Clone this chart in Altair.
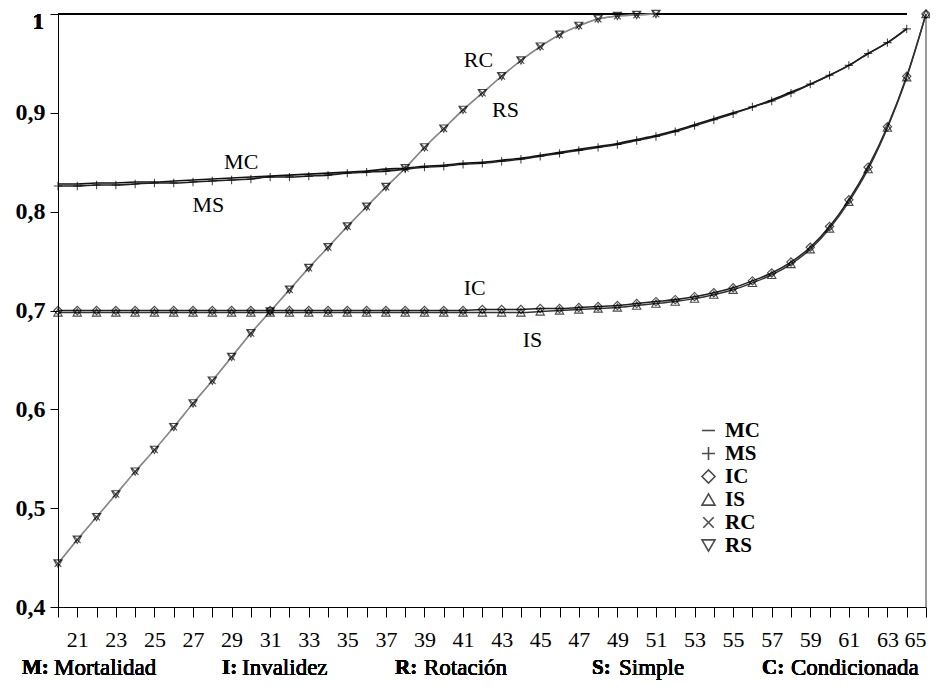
import altair as alt
import pandas as pd

# ---------------- data ----------------
ages_M = list(range(20, 65))
ages_I = list(range(20, 66))
ages_R = list(range(20, 52))

MC = [0.828, 0.828, 0.829, 0.829, 0.830, 0.830, 0.831, 0.832, 0.833, 0.834,
      0.835, 0.836, 0.837, 0.838, 0.839, 0.840, 0.841, 0.843, 0.844, 0.846,
      0.847, 0.849, 0.850, 0.852, 0.854, 0.857, 0.860, 0.863, 0.866, 0.869,
      0.873, 0.877, 0.882, 0.888, 0.894, 0.900, 0.906, 0.913, 0.921, 0.929,
      0.938, 0.948, 0.960, 0.971, 0.985]
MS = [0.826, 0.826, 0.827, 0.827, 0.828, 0.829, 0.829, 0.830, 0.831, 0.832,
      0.833, 0.835, 0.835, 0.836, 0.837, 0.839, 0.840, 0.841, 0.843, 0.845,
      0.846, 0.848, 0.849, 0.851, 0.853, 0.856, 0.859, 0.862, 0.865, 0.868,
      0.872, 0.876, 0.881, 0.887, 0.893, 0.899, 0.906, 0.912, 0.920, 0.929,
      0.938, 0.948, 0.960, 0.971, 0.985]
IC = [0.700, 0.700, 0.700, 0.700, 0.700, 0.700, 0.700, 0.700, 0.700, 0.700,
      0.700, 0.700, 0.700, 0.700, 0.700, 0.700, 0.700, 0.700, 0.700, 0.700,
      0.700, 0.700, 0.701, 0.701, 0.701, 0.702, 0.702, 0.703, 0.704, 0.705,
      0.707, 0.709, 0.711, 0.714, 0.718, 0.723, 0.730, 0.738, 0.749, 0.764,
      0.785, 0.812, 0.845, 0.886, 0.937, 1.000]
IS = [0.698, 0.698, 0.698, 0.698, 0.698, 0.698, 0.698, 0.698, 0.698, 0.698,
      0.698, 0.698, 0.698, 0.698, 0.698, 0.698, 0.698, 0.698, 0.698, 0.698,
      0.698, 0.698, 0.698, 0.698, 0.698, 0.699, 0.700, 0.701, 0.702, 0.703,
      0.705, 0.707, 0.709, 0.712, 0.716, 0.721, 0.728, 0.736, 0.747, 0.762,
      0.783, 0.810, 0.843, 0.885, 0.936, 1.000]
RC = [0.444, 0.468, 0.491, 0.514, 0.537, 0.559, 0.582, 0.606, 0.629, 0.653,
      0.677, 0.699, 0.721, 0.743, 0.764, 0.785, 0.805, 0.825, 0.844, 0.865,
      0.884, 0.903, 0.920, 0.937, 0.953, 0.967, 0.979, 0.988, 0.995, 0.998,
      0.999, 1.000]
RS = [0.444, 0.468, 0.491, 0.514, 0.537, 0.559, 0.582, 0.606, 0.629, 0.653,
      0.677, 0.699, 0.721, 0.743, 0.764, 0.785, 0.805, 0.825, 0.844, 0.865,
      0.884, 0.903, 0.920, 0.937, 0.953, 0.967, 0.979, 0.988, 0.995, 0.998,
      0.999, 1.000]

series_names = ["MC", "MS", "IC", "IS", "RC", "RS"]
y_ticks = [0.4, 0.5, 0.6, 0.7, 0.8, 0.9, 1.0]
x_ticks = list(range(20, 66))

label_names = ["RC", "RS", "MC", "MS", "IC", "IS"]
label_ages = [41.8, 43.2, 29.5, 27.8, 41.6, 44.6]
label_vals = [0.953, 0.903, 0.850, 0.807, 0.723, 0.670]

foot_keys = ["M:", "I:", "R:", "S:", "C:"]
foot_words = ["Mortalidad", "Invalidez", "Rotación", "Simple", "Condicionada"]

# ---------------- build tables ----------------
rows = []
for name, ages, vals in [("MC", ages_M, MC), ("MS", ages_M, MS),
                         ("IC", ages_I, IC), ("IS", ages_I, IS),
                         ("RC", ages_R, RC), ("RS", ages_R, RS)]:
    for a, v in zip(ages, vals):
        rows.append({"series": name, "line": name + "_l", "age": a, "value": v})
df = pd.DataFrame(rows)
labels_df = pd.DataFrame({"label": label_names, "age": label_ages, "value": label_vals})

SERIF = "Liberation Serif"
PLUS = "M-1,0L1,0M0,-1L0,1"
XMARK = "M-0.8,-0.8L0.8,0.8M-0.8,0.8L0.8,-0.8"

xscale = alt.Scale(domain=[20, 65], nice=False, zero=False)
yscale = alt.Scale(domain=[0.4, 1.0], nice=False, zero=False)

x_enc = alt.X("age:Q", scale=xscale,
              axis=alt.Axis(values=x_ticks, tickCount=60, title=None, grid=False,
                            labelExpr="datum.value % 2 == 1 ? '' + datum.value : ''",
                            tickSize=10, labelPadding=12, labelOverlap=False,
                            labelFlush=True, labelFlushOffset=0,
                            domainColor="black", tickColor="black",
                            labelFont=SERIF, labelFontSize=22, labelColor="black"))
y_enc = alt.Y("value:Q", scale=yscale,
              axis=alt.Axis(values=y_ticks, tickCount=10, title=None, grid=False,
                            labelExpr="datum.value > 0.99 ? '' : replace(format(datum.value, '.1f'), '.', ',')",
                            tickSize=8, labelPadding=5, domainColor="black", tickColor="black",
                            labelFont=SERIF, labelFontSize=24, labelFontWeight="bold",
                            labelColor="black"))

line_domain = [s + "_l" for s in series_names]
lines = alt.Chart(df).mark_line(interpolate="monotone").encode(
    x=x_enc, y=y_enc,
    color=alt.Color("line:N", scale=alt.Scale(domain=line_domain,
                    range=["#111111", "#222222", "#222222", "#333333", "#8a8a8a", "#8a8a8a"]),
                    legend=None),
    strokeWidth=alt.StrokeWidth("line:N", scale=alt.Scale(domain=line_domain,
                                range=[1.6, 1.4, 1.5, 1.2, 1.0, 1.0]), legend=None),
)

points = alt.Chart(df).mark_point(filled=False, size=70, strokeWidth=1.1, color="black").encode(
    x="age:Q", y="value:Q",
    shape=alt.Shape("series:N",
                    scale=alt.Scale(domain=series_names,
                                    range=["stroke", PLUS, "diamond", "triangle-up", XMARK, "triangle-down"]),
                    legend=alt.Legend(title=None, orient="none", legendX=640, legendY=406,
                                      labelFont=SERIF, labelFontSize=21, labelFontWeight="bold",
                                      labelColor="black", symbolSize=170, symbolStrokeWidth=1.6,
                                      symbolStrokeColor="black", symbolFillColor="white",
                                      symbolType="circle",
                                      labelOffset=6, rowPadding=1)),
).transform_filter("datum.series != 'MC'")

top_rule = alt.Chart(df).mark_rule(color="black", strokeWidth=1.2).encode(
    x=alt.datum(20), x2=alt.datum(64), y=alt.datum(1.0))
right_rule = alt.Chart(df).mark_rule(color="#9a9a9a", strokeWidth=1.5).encode(
    x=alt.datum(65), y=alt.datum(0.4), y2=alt.datum(1.0))

one_label = alt.Chart(labels_df).mark_text(
    text="1", font=SERIF, fontSize=23, fontWeight="bold", align="right", baseline="middle",
    dy=8, color="black").encode(x=alt.value(-14), y=alt.datum(1.0))

series_labels = alt.Chart(labels_df).mark_text(font=SERIF, fontSize=22, color="black").encode(
    x="age:Q", y="value:Q", text="label:N")

foot_x_keys = [-36, 164, 337, 534, 704]
foot_x_words = [-4, 184, 366, 561, 733]
foot_layers = []
for k, w, xk, xw in zip(foot_keys, foot_words, foot_x_keys, foot_x_words):
    foot_layers.append(alt.Chart(labels_df).mark_text(
        text=k, font=SERIF, fontSize=21, fontWeight="bold", align="left", color="black"
    ).encode(x=alt.value(xk), y=alt.value(654)))
    foot_layers.append(alt.Chart(labels_df).mark_text(
        text=w, font=SERIF, fontSize=23, align="left", color="black"
    ).encode(x=alt.value(xw), y=alt.value(654)))

chart = alt.layer(top_rule, right_rule, lines, points, one_label, series_labels,
                  *foot_layers).properties(
    width=868, height=593,
    autosize=alt.AutoSizeParams(type="none"),
    padding={"left": 50, "top": 6, "right": 4, "bottom": 80},
    background="white",
).configure_view(stroke=None)

chart.save("out.html", embed_options={"renderer": "svg", "actions": False})
